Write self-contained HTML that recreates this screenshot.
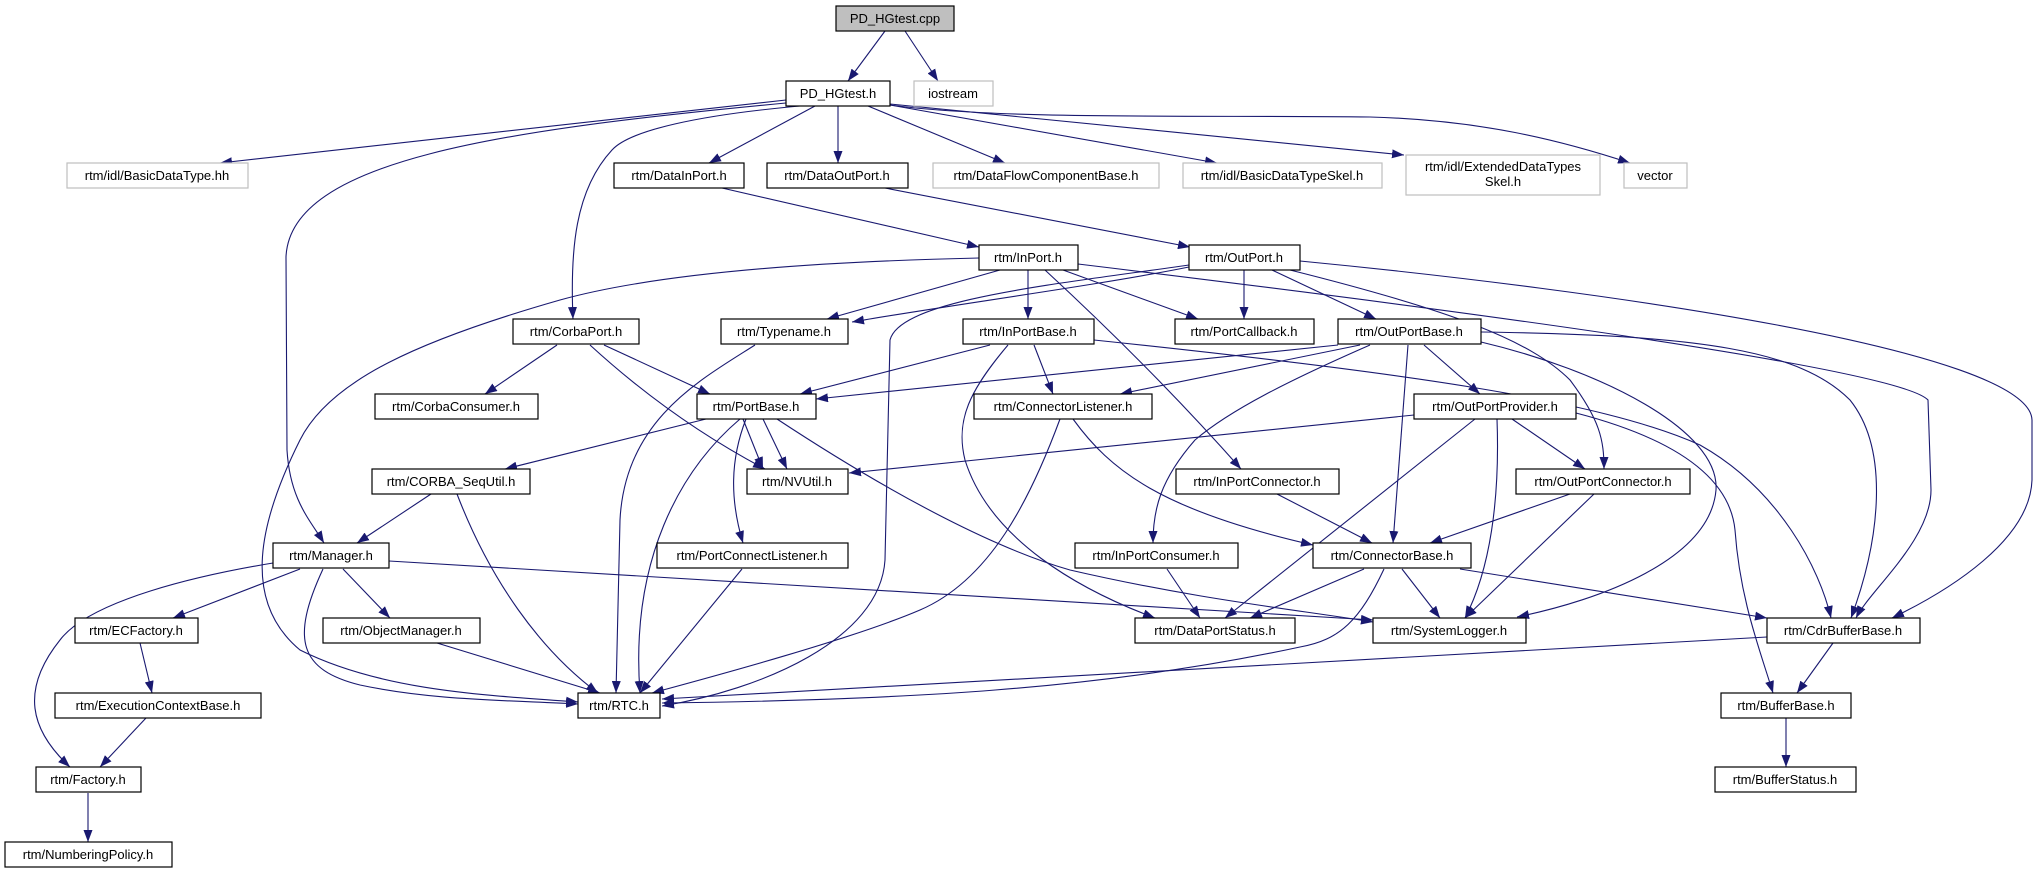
<!DOCTYPE html>
<html><head><meta charset="utf-8"><style>
html,body{margin:0;padding:0;background:#fff;}
svg{display:block;}
text{font-family:"Liberation Sans",sans-serif;font-size:13px;fill:#000;}
.n{fill:#fff;stroke:#000;stroke-width:1.2;}
.g{fill:#fff;stroke:#bfbfbf;stroke-width:1.2;}
.e{fill:none;stroke:#191970;stroke-width:1.1;marker-end:url(#a);}
</style></head><body>
<svg width="2038" height="873" viewBox="0 0 2038 873" xmlns="http://www.w3.org/2000/svg">
<defs><marker id="a" markerWidth="12" markerHeight="9" refX="12" refY="4.5" orient="auto" markerUnits="userSpaceOnUse"><path d="M0,0 L12,4.5 L0,9 z" fill="#191970"/></marker></defs>
<g>
<path class="e" d="M885,31 L848,81"/>
<path class="e" d="M905,31 L938,81"/>
<path class="e" d="M786,100 L220,163"/>
<path class="e" d="M786,103 C500,130 290,160 286,257 L287,450 C290,500 310,520 324,543"/>
<path class="e" d="M800,106 C700,115 630,130 612,150 C575,190 570,250 573,319"/>
<path class="e" d="M815,106 L709,163"/>
<path class="e" d="M838,106 L838,163"/>
<path class="e" d="M868,106 L1005,163"/>
<path class="e" d="M890,105 L1217,163"/>
<path class="e" d="M890,104 L1404,155"/>
<path class="e" d="M890,105 C1000,120 1200,115 1370,117 C1480,120 1560,140 1630,163"/>
<path class="e" d="M722,188 L979,247"/>
<path class="e" d="M885,188 L1190,247"/>
<path class="e" d="M979,258 C800,262 650,275 560,300 C420,340 330,380 300,440 C260,520 240,600 300,650 C380,690 480,695 578,702"/>
<path class="e" d="M1000,270 L827,319"/>
<path class="e" d="M1028,270 L1028,319"/>
<path class="e" d="M1063,270 L1198,319"/>
<path class="e" d="M1045,270 C1110,330 1180,400 1241,469"/>
<path class="e" d="M1078,264 C1500,315 1900,370 1928,400 L1931,490 C1931,540 1870,590 1856,618"/>
<path class="e" d="M1189,267 C1100,285 950,305 852,322"/>
<path class="e" d="M1189,265 C1050,285 900,300 890,340 L885,560 C880,640 760,690 662,706"/>
<path class="e" d="M1244,270 L1244,319"/>
<path class="e" d="M1272,270 L1376,319"/>
<path class="e" d="M1290,270 C1450,310 1530,340 1570,380 C1600,420 1604,440 1604,469"/>
<path class="e" d="M1300,261 C1600,290 2030,350 2032,420 L2032,480 C2030,540 1950,590 1892,618"/>
<path class="e" d="M1094,340 C1400,372 1600,400 1700,445 C1780,490 1820,570 1831,618"/>
<path class="e" d="M1481,332 C1700,335 1800,350 1850,400 C1890,450 1880,540 1851,618"/>
<path class="e" d="M1481,342 C1600,370 1720,430 1716,490 C1710,560 1600,600 1517,617"/>
<path class="e" d="M1576,413 C1680,440 1730,480 1735,530 C1740,600 1760,650 1773,693"/>
<path class="e" d="M1338,345 L816,399"/>
<path class="e" d="M1360,345 L1120,394"/>
<path class="e" d="M1370,345 C1290,380 1230,410 1195,440 C1160,480 1153,510 1153,543"/>
<path class="e" d="M1408,345 L1393,543"/>
<path class="e" d="M1424,345 L1480,394"/>
<path class="e" d="M990,345 L800,394"/>
<path class="e" d="M1034,345 L1053,394"/>
<path class="e" d="M1008,345 C970,390 955,420 965,460 C990,540 1080,590 1155,618"/>
<path class="e" d="M755,345 C700,380 625,420 620,520 L616,693"/>
<path class="e" d="M557,345 L485,394"/>
<path class="e" d="M604,345 L710,394"/>
<path class="e" d="M590,345 C650,400 710,440 765,469"/>
<path class="e" d="M706,419 L505,469"/>
<path class="e" d="M763,419 L787,469"/>
<path class="e" d="M743,419 L763,469"/>
<path class="e" d="M746,419 C730,460 730,500 743,543"/>
<path class="e" d="M740,419 C680,470 630,560 640,693"/>
<path class="e" d="M777,419 C900,500 1000,550 1070,570 C1200,600 1300,610 1373,622"/>
<path class="e" d="M1060,419 C1030,500 990,580 920,610 C850,640 700,680 652,693"/>
<path class="e" d="M1073,419 C1110,470 1160,510 1313,545"/>
<path class="e" d="M431,494 L357,543"/>
<path class="e" d="M457,494 C490,580 540,650 598,693"/>
<path class="e" d="M273,563 C200,575 90,600 60,640 C20,690 30,730 70,767"/>
<path class="e" d="M300,569 L173,618"/>
<path class="e" d="M323,569 C290,640 300,670 360,685 C430,700 500,700 578,704"/>
<path class="e" d="M343,569 L390,618"/>
<path class="e" d="M389,561 L1373,620"/>
<path class="e" d="M140,643 L152,693"/>
<path class="e" d="M146,718 L100,767"/>
<path class="e" d="M437,643 L600,693"/>
<path class="e" d="M88,793 L88,842"/>
<path class="e" d="M742,569 L640,693"/>
<path class="e" d="M1414,415 L849,473"/>
<path class="e" d="M1475,419 L1225,618"/>
<path class="e" d="M1497,419 C1500,500 1490,570 1465,618"/>
<path class="e" d="M1512,419 L1585,469"/>
<path class="e" d="M1277,494 L1372,543"/>
<path class="e" d="M1570,494 L1430,543"/>
<path class="e" d="M1594,494 L1465,618"/>
<path class="e" d="M1167,569 L1200,618"/>
<path class="e" d="M1364,569 L1250,618"/>
<path class="e" d="M1402,569 L1440,618"/>
<path class="e" d="M1384,569 C1360,620 1340,640 1300,647 C1100,690 900,700 662,703"/>
<path class="e" d="M1460,569 L1767,618"/>
<path class="e" d="M1767,637 L662,699"/>
<path class="e" d="M1833,643 L1797,693"/>
<path class="e" d="M1786,718 L1786,767"/>
</g>
<g>
<rect x="836" y="6" width="118" height="25" fill="#bfbfbf" stroke="#000" stroke-width="1.2"/><text x="895" y="23" text-anchor="middle">PD_HGtest.cpp</text>
<rect class="n" x="786" y="81" width="104" height="25"/><text x="838" y="98" text-anchor="middle">PD_HGtest.h</text>
<rect class="g" x="914" y="81" width="79" height="25"/><text x="953" y="98" text-anchor="middle">iostream</text>
<rect class="g" x="67" y="163" width="181" height="25"/><text x="157" y="180" text-anchor="middle">rtm/idl/BasicDataType.hh</text>
<rect class="n" x="614" y="163" width="130" height="25"/><text x="679" y="180" text-anchor="middle">rtm/DataInPort.h</text>
<rect class="n" x="767" y="163" width="141" height="25"/><text x="837" y="180" text-anchor="middle">rtm/DataOutPort.h</text>
<rect class="g" x="933" y="163" width="226" height="25"/><text x="1046" y="180" text-anchor="middle">rtm/DataFlowComponentBase.h</text>
<rect class="g" x="1183" y="163" width="199" height="25"/><text x="1282" y="180" text-anchor="middle">rtm/idl/BasicDataTypeSkel.h</text>
<rect class="g" x="1406" y="155" width="194" height="40"/><text x="1503" y="171" text-anchor="middle">rtm/idl/ExtendedDataTypes</text><text x="1503" y="186" text-anchor="middle">Skel.h</text>
<rect class="g" x="1624" y="163" width="63" height="25"/><text x="1655" y="180" text-anchor="middle">vector</text>
<rect class="n" x="979" y="245" width="99" height="25"/><text x="1028" y="262" text-anchor="middle">rtm/InPort.h</text>
<rect class="n" x="1189" y="245" width="111" height="25"/><text x="1244" y="262" text-anchor="middle">rtm/OutPort.h</text>
<rect class="n" x="513" y="319" width="126" height="25"/><text x="576" y="336" text-anchor="middle">rtm/CorbaPort.h</text>
<rect class="n" x="721" y="319" width="127" height="25"/><text x="784" y="336" text-anchor="middle">rtm/Typename.h</text>
<rect class="n" x="963" y="319" width="131" height="25"/><text x="1028" y="336" text-anchor="middle">rtm/InPortBase.h</text>
<rect class="n" x="1175" y="319" width="139" height="25"/><text x="1244" y="336" text-anchor="middle">rtm/PortCallback.h</text>
<rect class="n" x="1338" y="319" width="143" height="25"/><text x="1409" y="336" text-anchor="middle">rtm/OutPortBase.h</text>
<rect class="n" x="375" y="394" width="163" height="25"/><text x="456" y="411" text-anchor="middle">rtm/CorbaConsumer.h</text>
<rect class="n" x="697" y="394" width="119" height="25"/><text x="756" y="411" text-anchor="middle">rtm/PortBase.h</text>
<rect class="n" x="974" y="394" width="178" height="25"/><text x="1063" y="411" text-anchor="middle">rtm/ConnectorListener.h</text>
<rect class="n" x="1414" y="394" width="162" height="25"/><text x="1495" y="411" text-anchor="middle">rtm/OutPortProvider.h</text>
<rect class="n" x="372" y="469" width="158" height="25"/><text x="451" y="486" text-anchor="middle">rtm/CORBA_SeqUtil.h</text>
<rect class="n" x="747" y="469" width="101" height="25"/><text x="797" y="486" text-anchor="middle">rtm/NVUtil.h</text>
<rect class="n" x="1176" y="469" width="163" height="25"/><text x="1257" y="486" text-anchor="middle">rtm/InPortConnector.h</text>
<rect class="n" x="1516" y="469" width="174" height="25"/><text x="1603" y="486" text-anchor="middle">rtm/OutPortConnector.h</text>
<rect class="n" x="273" y="543" width="116" height="25"/><text x="331" y="560" text-anchor="middle">rtm/Manager.h</text>
<rect class="n" x="657" y="543" width="191" height="25"/><text x="752" y="560" text-anchor="middle">rtm/PortConnectListener.h</text>
<rect class="n" x="1075" y="543" width="163" height="25"/><text x="1156" y="560" text-anchor="middle">rtm/InPortConsumer.h</text>
<rect class="n" x="1313" y="543" width="158" height="25"/><text x="1392" y="560" text-anchor="middle">rtm/ConnectorBase.h</text>
<rect class="n" x="75" y="618" width="123" height="25"/><text x="136" y="635" text-anchor="middle">rtm/ECFactory.h</text>
<rect class="n" x="323" y="618" width="157" height="25"/><text x="401" y="635" text-anchor="middle">rtm/ObjectManager.h</text>
<rect class="n" x="1135" y="618" width="160" height="25"/><text x="1215" y="635" text-anchor="middle">rtm/DataPortStatus.h</text>
<rect class="n" x="1373" y="618" width="153" height="25"/><text x="1449" y="635" text-anchor="middle">rtm/SystemLogger.h</text>
<rect class="n" x="1767" y="618" width="153" height="25"/><text x="1843" y="635" text-anchor="middle">rtm/CdrBufferBase.h</text>
<rect class="n" x="55" y="693" width="206" height="25"/><text x="158" y="710" text-anchor="middle">rtm/ExecutionContextBase.h</text>
<rect class="n" x="578" y="693" width="82" height="25"/><text x="619" y="710" text-anchor="middle">rtm/RTC.h</text>
<rect class="n" x="1721" y="693" width="130" height="25"/><text x="1786" y="710" text-anchor="middle">rtm/BufferBase.h</text>
<rect class="n" x="36" y="767" width="105" height="25"/><text x="88" y="784" text-anchor="middle">rtm/Factory.h</text>
<rect class="n" x="1715" y="767" width="141" height="25"/><text x="1785" y="784" text-anchor="middle">rtm/BufferStatus.h</text>
<rect class="n" x="5" y="842" width="167" height="25"/><text x="88" y="859" text-anchor="middle">rtm/NumberingPolicy.h</text>
</g>
</svg>
</body></html>
